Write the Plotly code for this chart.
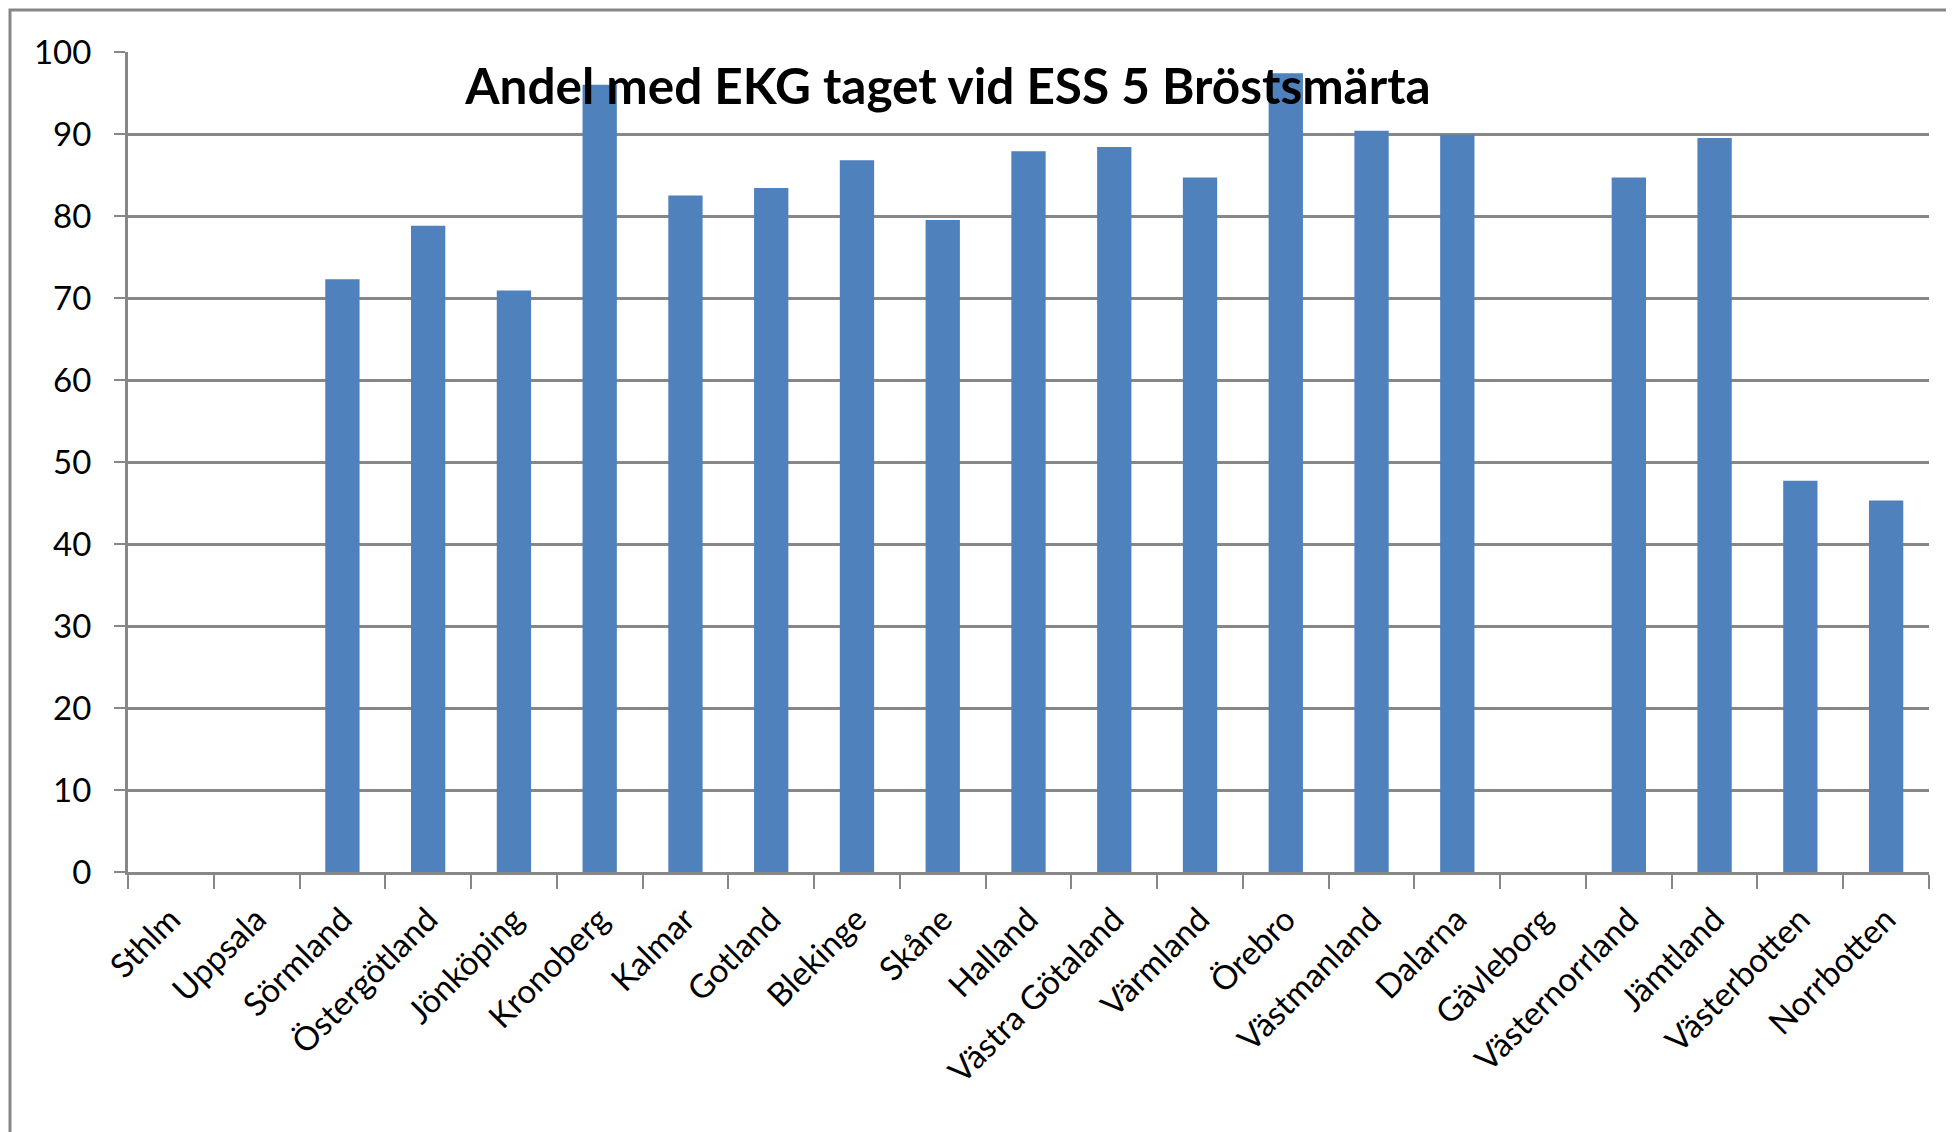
import plotly.graph_objects as go

categories = ["Sthlm", "Uppsala", "Sörmland", "Östergötland", "Jönköping", "Kronoberg",
              "Kalmar", "Gotland", "Blekinge", "Skåne", "Halland", "Västra Götaland",
              "Värmland", "Örebro", "Västmanland", "Dalarna", "Gävleborg",
              "Västernorrland", "Jämtland", "Västerbotten", "Norrbotten"]
values = [None, None, 72.3, 78.8, 70.9, 96.0,
          82.5, 83.4, 86.8, 79.5, 87.9, 88.4,
          84.7, 97.4, 90.4, 89.9, None,
          84.7, 89.5, 47.7, 45.3]
y_ticks = [0, 10, 20, 30, 40, 50, 60, 70, 80, 90, 100]
title_text = "Andel med EKG taget vid ESS 5 Bröstsmärta"

OFF = 8  # page body margin
W, H = 1954 - OFF, 1132 - OFF
ML, MT = 128 - OFF, 52 - OFF
pw, ph = 1801, 820
MR, MB = W - ML - pw, H - MT - ph

GRAY = "#878787"
FONT = "Lato"

fig = go.Figure(go.Bar(x=categories, y=values, marker=dict(color="#4F81BD", line=dict(width=0)),
                       width=0.4))

fig.update_layout(
    width=W, height=H,
    margin=dict(l=ML, r=MR, t=MT, b=MB, autoexpand=False),
    paper_bgcolor="white", plot_bgcolor="white",
    showlegend=False,
    title=dict(text="<b>" + title_text + "</b>", x=(948 - OFF) / W, xref="container", xanchor="center",
               y=1 - (87 - OFF) / H, yref="container", yanchor="middle",
               font=dict(family=FONT, size=49.5, color="black")),
    xaxis=dict(type="category", tickson="boundaries", ticks="outside", ticklen=14, tickwidth=2,
               tickcolor=GRAY, showline=True, linecolor=GRAY, linewidth=3, showgrid=False,
               tickangle=-45, ticklabelstandoff=12,
               tickfont=dict(family=FONT, size=33, color="black")),
    yaxis=dict(range=[0, 100], tickvals=y_ticks, ticks="outside", ticklen=11, tickwidth=2,
               tickcolor=GRAY, showline=True, linecolor=GRAY, linewidth=3,
               showgrid=True, gridcolor=GRAY, gridwidth=2.5, zeroline=False,
               ticklabelstandoff=16,
               tickfont=dict(family=FONT, size=33, color="black")),
    shapes=[dict(type="rect", xref="paper", yref="paper",
                 x0=(10 - OFF - ML) / pw, x1=(W + 20 - ML) / pw,
                 y0=(MT + ph - H - 20) / ph, y1=(MT + ph - (10 - OFF)) / ph,
                 line=dict(color=GRAY, width=3), fillcolor="rgba(0,0,0,0)", layer="below")],
)

fig.write_html("out.html")
